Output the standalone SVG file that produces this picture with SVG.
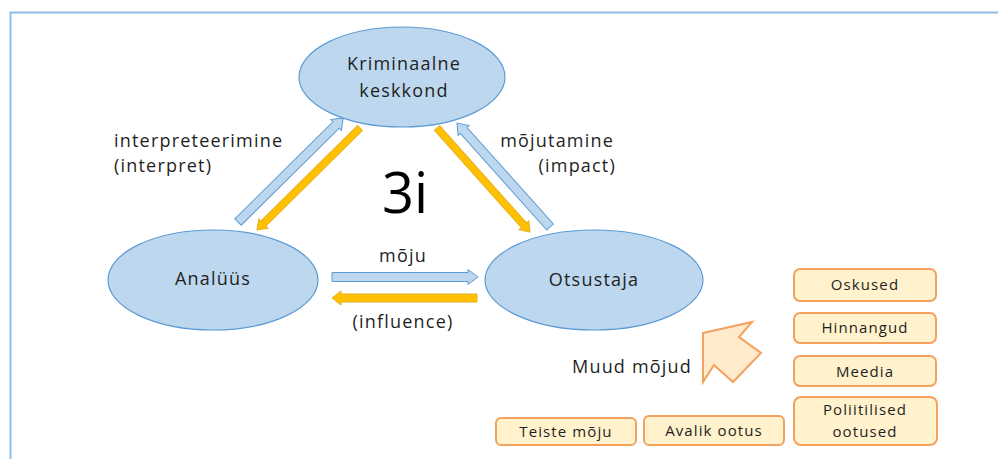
<svg xmlns="http://www.w3.org/2000/svg" width="998" height="459" viewBox="0 0 998 459">
<defs>
<style>
.node ellipse{fill:#BDD7EE;stroke:#5B9BD5;stroke-width:1.2}
.box rect{fill:#FFF2CC;stroke:#F4A15D;stroke-width:2}
text{font-family:"Open Sans","Noto Sans",sans-serif;fill:#1F1F1F}
.lbl{font-size:18px;letter-spacing:1.2px}
.bt{font-size:15px;letter-spacing:1.1px;text-anchor:middle}
.nt{font-size:18px;letter-spacing:1.2px;text-anchor:middle}
.blue{fill:#BDD7EE;stroke:#5B9BD5;stroke-width:1}
.yel{fill:#FFC000;stroke:#E8B020;stroke-width:1}
</style>
</defs>
<rect x="0" y="0" width="998" height="459" fill="#FFFFFF"/>
<path d="M10.5 459 V12.5 H998" fill="none" stroke="#8FBCE6" stroke-width="2"/>

<g id="connectors">
<polygon class="blue" transform="translate(238,222) rotate(-44.7)" points="0,-4.5 138,-4.5 138,-7.5 148,0 138,7.5 138,4.5 0,4.5"/>
<polygon class="yel" transform="translate(360,128) rotate(135.3)" points="0,-3.5 136,-3.5 136,-6.5 145,0 136,6.5 136,3.5 0,3.5"/>
<polygon class="yel" transform="translate(437,128) rotate(48.2)" points="0,-3.5 130.5,-3.5 130.5,-6.5 139.5,0 130.5,6.5 130.5,3.5 0,3.5"/>
<polygon class="blue" transform="translate(550,227) rotate(-131.8)" points="0,-4.5 129.5,-4.5 129.5,-7.5 139.5,0 129.5,7.5 129.5,4.5 0,4.5"/>
<polygon class="blue" transform="translate(332,277)" points="0,-4.5 136,-4.5 136,-7.5 146,0 136,7.5 136,4.5 0,4.5"/>
<polygon class="yel" transform="translate(477,298) rotate(180)" points="0,-4 136,-4 136,-7 145,0 136,7 136,4 0,4"/>
</g>

<g id="node-kriminaalne" class="node">
<ellipse cx="402" cy="77" rx="103" ry="50"/>
<text class="nt" x="404" y="70">Kriminaalne</text>
<text class="nt" x="404" y="97">keskkond</text>
</g>
<g id="node-analuus" class="node">
<ellipse cx="213" cy="280" rx="105" ry="50"/>
<text class="nt" x="213" y="285">Analüüs</text>
</g>
<g id="node-otsustaja" class="node">
<ellipse cx="594" cy="280" rx="109" ry="50"/>
<text class="nt" x="594" y="286">Otsustaja</text>
</g>

<g id="labels">
<text class="lbl" x="114" y="147">interpreteerimine</text>
<text class="lbl" x="114" y="172">(interpret)</text>
<text class="lbl" x="614" y="147" text-anchor="end">mõjutamine</text>
<text class="lbl" x="616" y="172" text-anchor="end">(impact)</text>
<text class="lbl" x="403" y="262" text-anchor="middle">mõju</text>
<text class="lbl" x="403" y="328" text-anchor="middle">(influence)</text>
<text x="405" y="213" text-anchor="middle" style="font-size:56px;fill:#000">3i</text>
<text class="lbl" x="572" y="373">Muud mõjud</text>
</g>

<g id="arrow-muud">
<polygon points="703,333 752,322 739,337 761,353 733,382 714,365 703,382" fill="#FFEBCC" stroke="#F4A15D" stroke-width="2" stroke-linejoin="miter"/>
</g>

<g id="box-oskused" class="box"><rect x="794" y="269" width="142" height="32" rx="6"/><text class="bt" x="865" y="290">Oskused</text></g>
<g id="box-hinnangud" class="box"><rect x="794" y="313" width="142" height="30" rx="6"/><text class="bt" x="865" y="333">Hinnangud</text></g>
<g id="box-meedia" class="box"><rect x="794" y="356" width="142" height="30" rx="6"/><text class="bt" x="865" y="377">Meedia</text></g>
<g id="box-poliitilised" class="box"><rect x="794" y="397" width="143" height="48" rx="7"/><text class="bt" x="865" y="415">Poliitilised</text><text class="bt" x="865" y="437">ootused</text></g>
<g id="box-teiste" class="box"><rect x="496" y="418" width="140" height="27" rx="5"/><text class="bt" x="566" y="437">Teiste mõju</text></g>
<g id="box-avalik" class="box"><rect x="644" y="416" width="140" height="29" rx="5"/><text class="bt" x="714" y="436">Avalik ootus</text></g>
</svg>
